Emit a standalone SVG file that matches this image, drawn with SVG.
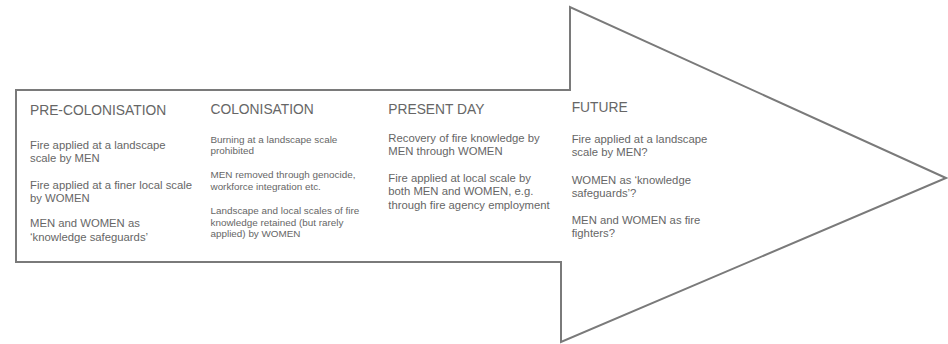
<svg xmlns="http://www.w3.org/2000/svg" width="948" height="344" viewBox="0 0 948 344">
<style>
.arrow{fill:#fff;stroke:#7a7a7a;stroke-width:2;stroke-linejoin:miter}
text{font-family:"Liberation Sans",Arial,Helvetica,sans-serif;fill:#666}
.h{font-size:13.8px}
.b{font-size:11.3px}
.s{font-size:9.9px}
</style>
<rect width="948" height="344" fill="#fff"/>
<g id="arrow">
<polygon class="arrow" points="16,90 570,90 570,7 946,178 561,342 561,262 16,262"/>
</g>
<g id="pre-colonisation">
<text class="h" x="30" y="115">PRE-COLONISATION</text>
<text class="b" x="30" y="148.5">Fire applied at a landscape</text>
<text class="b" x="30" y="161.9">scale by MEN</text>
<text class="b" x="30" y="188.8">Fire applied at a finer local scale</text>
<text class="b" x="30" y="202.2">by WOMEN</text>
<text class="b" x="30" y="227.3">MEN and WOMEN as</text>
<text class="b" x="30" y="240.7">‘knowledge safeguards’</text>
</g>
<g id="colonisation">
<text class="h" x="210.5" y="114">COLONISATION</text>
<text class="s" x="210.5" y="142.5">Burning at a landscape scale</text>
<text class="s" x="210.5" y="154">prohibited</text>
<text class="s" x="210.5" y="178">MEN removed through genocide,</text>
<text class="s" x="210.5" y="189.5">workforce integration etc.</text>
<text class="s" x="210.5" y="214">Landscape and local scales of fire</text>
<text class="s" x="210.5" y="225.6">knowledge retained (but rarely</text>
<text class="s" x="210.5" y="237.2">applied) by WOMEN</text>
</g>
<g id="present-day">
<text class="h" x="388.3" y="114">PRESENT DAY</text>
<text class="b" x="388.3" y="141.5">Recovery of fire knowledge by</text>
<text class="b" x="388.3" y="154.8">MEN through WOMEN</text>
<text class="b" x="388.3" y="182">Fire applied at local scale by</text>
<text class="b" x="388.3" y="195.3">both MEN and WOMEN, e.g.</text>
<text class="b" x="388.3" y="208.6">through fire agency employment</text>
</g>
<g id="future">
<text class="h" x="571.7" y="111.5">FUTURE</text>
<text class="b" x="571.7" y="143">Fire applied at a landscape</text>
<text class="b" x="571.7" y="156.3">scale by MEN?</text>
<text class="b" x="571.7" y="183.5">WOMEN as ‘knowledge</text>
<text class="b" x="571.7" y="196.8">safeguards’?</text>
<text class="b" x="571.7" y="223.5">MEN and WOMEN as fire</text>
<text class="b" x="571.7" y="236.8">fighters?</text>
</g>
<g id="connectors"></g>
</svg>
